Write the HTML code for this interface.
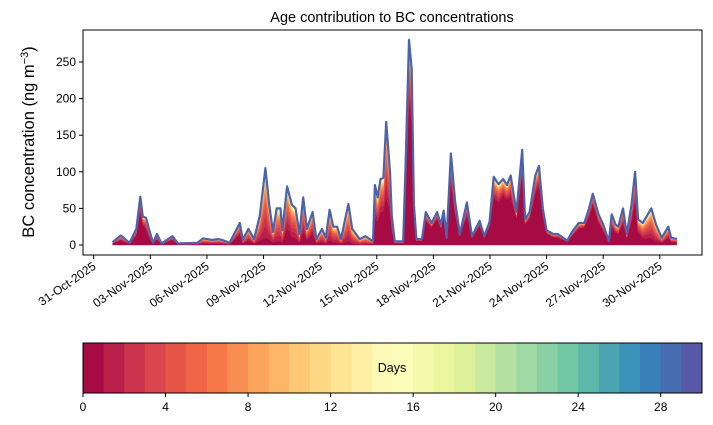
<!DOCTYPE html>
<html><head><meta charset="utf-8"><style>
html,body{margin:0;padding:0;background:#fff;}
svg{display:block;font-family:"Liberation Sans",sans-serif;}
</style></head><body>
<svg id="c" width="713" height="425" viewBox="0 0 713 425"></svg>
<script>
const dates=[1.0,1.43,1.9,2.26,2.47,2.6,2.77,2.95,3.14,3.35,3.6,4.17,4.47,5.5,5.8,6.3,6.6,6.8,7.2,7.74,7.9,8.2,8.5,8.8,9.1,9.3,9.5,9.7,9.9,10.0,10.25,10.5,10.7,10.9,11.1,11.3,11.6,11.8,12.1,12.3,12.5,12.7,12.9,13.1,13.5,13.7,14.1,14.4,14.8,14.9,15.05,15.2,15.35,15.5,15.7,15.8,15.95,16.4,16.53,16.71,16.85,16.97,17.1,17.4,17.6,17.9,18.2,18.4,18.55,18.7,18.93,19.15,19.4,19.78,20.05,20.45,20.7,20.98,21.2,21.45,21.7,21.9,22.1,22.4,22.71,22.86,23.1,23.4,23.6,23.8,24.0,24.35,24.6,25.1,25.35,25.7,26.0,26.25,26.45,26.75,27.0,27.3,27.45,27.65,27.8,28.05,28.25,28.5,28.69,28.85,29.1,29.55,29.8,30.1,30.45,30.6,30.9];
const totals=[4,13,3,22,66,39,37,20,3,15,2,12,2,3,9,7,8,7,3,30,7,22,8,40,105,55,18,50,50,20,80,55,50,15,65,22,45,8,22,10,48,25,25,8,56,22,8,12,5,82,65,90,92,168,100,40,5,5,110,280,240,55,8,8,45,30,45,28,47,10,125,60,15,58,12,33,12,32,93,83,90,82,95,45,130,35,45,95,108,50,20,15,15,6,18,30,30,50,70,42,28,5,42,28,25,50,15,55,100,35,30,50,28,10,25,10,8];
const fresh=[0.5,0.5,0.5,0.6,0.7,0.7,0.6,0.5,0.5,0.5,0.5,0.6,0.5,0.3,0.3,0.3,0.3,0.3,0.3,0.5,0.3,0.3,0.2,0.15,0.1,0.15,0.2,0.1,0.1,0.2,0.3,0.2,0.2,0.2,0.3,0.3,0.35,0.3,0.2,0.2,0.15,0.15,0.15,0.2,0.1,0.1,0.1,0.1,0.3,0.45,0.5,0.5,0.5,0.4,0.45,0.5,0.5,0.5,0.6,0.7,0.7,0.7,0.7,0.7,0.75,0.8,0.8,0.8,0.8,0.8,0.7,0.7,0.8,0.7,0.8,0.8,0.8,0.8,0.7,0.7,0.75,0.75,0.7,0.8,0.75,0.8,0.8,0.75,0.75,0.8,0.8,0.7,0.7,0.7,0.7,0.75,0.8,0.8,0.8,0.75,0.7,0.7,0.6,0.6,0.6,0.6,0.6,0.6,0.6,0.5,0.3,0.2,0.2,0.3,0.4,0.4,0.5];
const ageBands=30;
const yTicks=[0,50,100,150,200,250];
const xTickDays=[0,3,6,9,12,15,18,21,24,27,30];
const xTickLabels=["31-Oct-2025","03-Nov-2025","06-Nov-2025","09-Nov-2025","12-Nov-2025","15-Nov-2025","18-Nov-2025","21-Nov-2025","24-Nov-2025","27-Nov-2025","30-Nov-2025"];
const cbTicks=[0,4,8,12,16,20,24,28];

const NS="http://www.w3.org/2000/svg";
const svg=document.getElementById('c');
function mk(t,a,p){const e=document.createElementNS(NS,t);for(const k in a)e.setAttribute(k,a[k]);(p||svg).appendChild(e);return e;}
const X0=83,X1=702,Y0=30,Y1=255;
const xs=d=>93.7+d*18.87;
const ys=v=>245-v*0.732;
const stops=[[0,"#9e0142"],[0.1,"#d53e4f"],[0.2,"#f46d43"],[0.3,"#fdae61"],[0.4,"#fee08b"],[0.5,"#ffffbf"],[0.6,"#e6f598"],[0.7,"#abdda4"],[0.8,"#66c2a5"],[0.9,"#3288bd"],[1,"#5e4fa2"]];
function hex(h){return [1,3,5].map(i=>parseInt(h.substr(i,2),16));}
function spectral(t){for(let i=0;i<stops.length-1;i++){if(t<=stops[i+1][0]){const f=(t-stops[i][0])/(stops[i+1][0]-stops[i][0]);const a=hex(stops[i][1]),b=hex(stops[i+1][1]);return 'rgb('+a.map((v,j)=>Math.round(v+(b[j]-v)*f)).join(',')+')';}}return stops[10][1];}
const bandColor=k=>spectral((k+0.5)/ageBands);

const title=mk('text',{x:392,y:22,'text-anchor':'middle','font-size':14.5});
title.textContent='Age contribution to BC concentrations';



const w=[];let ws=0;for(let k=1;k<ageBands;k++){const v=Math.exp(-k/5.5);w.push(v);ws+=v;}
let cum=dates.map(()=>0);
const layerG=mk('g',{});


for(let k=0;k<ageBands;k++){
  const lower=cum.slice();
  const upper=dates.map((dd,i)=>{const t=totals[i]||0;const f=(fresh[i]===undefined)?0.5:fresh[i];return lower[i]+(k===0?t*f:t*(1-f)*w[k-1]/ws);});
  let d='M'+dates.map((dd,i)=>xs(dd).toFixed(1)+','+ys(upper[i]).toFixed(1)).join('L');
  for(let i=dates.length-1;i>=0;i--)d+='L'+xs(dates[i]).toFixed(1)+','+ys(lower[i]).toFixed(1);
  const p=mk('path',{d:d+'Z',fill:bandColor(k),stroke:bandColor(k),'stroke-width':0.4},layerG);
  
  
  cum=upper;
}
const topLine=mk('path',{d:'M'+dates.map((dd,i)=>xs(dd).toFixed(1)+','+ys(totals[i]||0).toFixed(1)).join('L'),fill:'none',stroke:'#4c62ab','stroke-width':2.2,'stroke-linejoin':'round'});



const fr=mk('rect',{x:X0,y:Y0,width:X1-X0,height:Y1-Y0,fill:'none',stroke:'#000','stroke-width':1});



yTicks.forEach(v=>{
  mk('line',{x1:X0-4,x2:X0,y1:ys(v),y2:ys(v),stroke:'#000'});
  const t=mk('text',{x:X0-7,y:ys(v)+4,'text-anchor':'end','font-size':12});
  t.textContent=v;
  
  
});
const yl=mk('text',{x:0,y:0,transform:'translate(34,142) rotate(-90)','text-anchor':'middle','font-size':16.5});
yl.innerHTML='BC concentration (ng m<tspan dy="-6" font-size="11">−3</tspan><tspan dy="6">)</tspan>';



xTickDays.forEach((d,i)=>{
  const x=xs(d);
  mk('line',{x1:x,x2:x,y1:Y1,y2:Y1+4,stroke:'#000'});
  const t=mk('text',{x:0,y:0,transform:'translate('+(x+3)+','+(Y1+13)+') rotate(-35)','text-anchor':'end','font-size':12});
  t.textContent=xTickLabels[i];
  
  
});

const CB0=83,CB1=702,CBY=343,CBH=50;
const cbw=(CB1-CB0)/ageBands;
for(let k=0;k<ageBands;k++){
  const r=mk('rect',{x:CB0+k*cbw,y:CBY,width:cbw+0.5,height:CBH,fill:bandColor(k)});
  
  
}
const cbf=mk('rect',{x:CB0,y:CBY,width:CB1-CB0,height:CBH,fill:'none',stroke:'#000'});


const dl=mk('text',{x:392,y:372,'text-anchor':'middle','font-size':12.5});
dl.textContent='Days';


cbTicks.forEach(v=>{
  const x=CB0+v*cbw;
  mk('line',{x1:x,x2:x,y1:CBY+CBH,y2:CBY+CBH+4,stroke:'#000'});
  const t=mk('text',{x:x,y:CBY+CBH+18,'text-anchor':'middle','font-size':12});
  t.textContent=v;
  
  
});
</script>
</body></html>
